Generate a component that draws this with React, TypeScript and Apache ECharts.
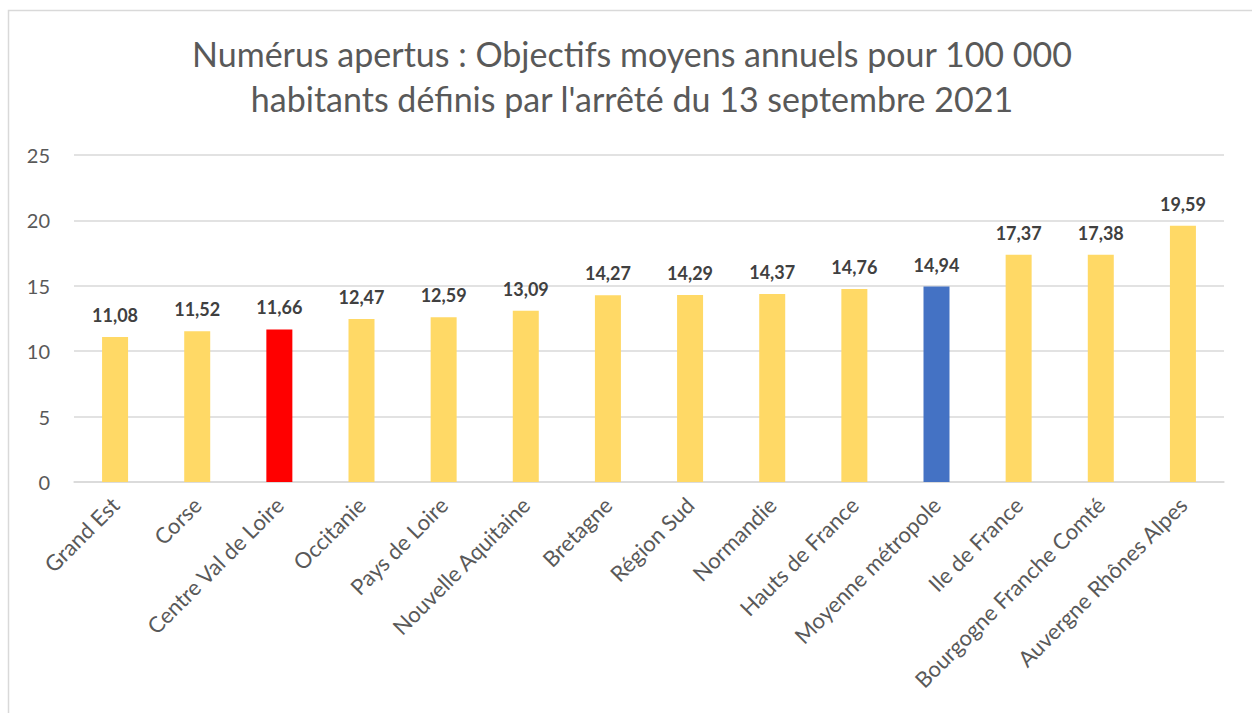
import React, { useEffect, useRef } from "react";
import * as echarts from "echarts";

const categories = [
  "Grand Est",
  "Corse",
  "Centre Val de Loire",
  "Occitanie",
  "Pays de Loire",
  "Nouvelle Aquitaine",
  "Bretagne",
  "Région Sud",
  "Normandie",
  "Hauts de France",
  "Moyenne métropole",
  "Ile de France",
  "Bourgogne Franche Comté",
  "Auvergne Rhônes Alpes",
];
const values = [11.08, 11.52, 11.66, 12.47, 12.59, 13.09, 14.27, 14.29, 14.37, 14.76, 14.94, 17.37, 17.38, 19.59];
const barColors = [
  "#FFD966", "#FFD966", "#FF0000", "#FFD966", "#FFD966", "#FFD966", "#FFD966",
  "#FFD966", "#FFD966", "#FFD966", "#4472C4", "#FFD966", "#FFD966", "#FFD966",
];
const titleText = "Numérus apertus : Objectifs moyens annuels pour 100 000\nhabitants définis par l'arrêté du 13 septembre 2021";

export default function App() {
  const ref = useRef<HTMLDivElement>(null);
  useEffect(() => {
    if (!ref.current) return;
    const chart = echarts.init(ref.current, null, { renderer: "svg" });
    const font = "Lato, 'Open Sans', sans-serif";
    chart.setOption({
      animation: false,
      backgroundColor: "#ffffff",
      textStyle: { fontFamily: font },
      title: {
        text: titleText,
        left: 627,
        textAlign: "center",
        top: 26,
        textStyle: {
          fontFamily: font,
          fontSize: 34,
          fontWeight: "normal",
          color: "#595959",
          lineHeight: 45,
        },
      },
      graphic: [
        {
          type: "rect",
          shape: { x: 8.5, y: 10.5, width: 1400, height: 900 },
          style: { fill: "none", stroke: "#D9D9D9", lineWidth: 1.5 },
          silent: true,
        },
      ],
      grid: { left: 74, right: 28, top: 155, bottom: 231, containLabel: false },
      xAxis: {
        type: "category",
        data: categories,
        axisLine: { show: true, lineStyle: { color: "#D9D9D9", width: 1.5 } },
        axisTick: { show: false },
        axisLabel: {
          rotate: 45,
          interval: 0,
          fontSize: 22,
          color: "#595959",
          fontFamily: font,
          margin: 19,
        },
      },
      yAxis: {
        type: "value",
        min: 0,
        max: 25,
        interval: 5,
        axisLine: { show: false },
        axisTick: { show: false },
        splitLine: { lineStyle: { color: "#D9D9D9", width: 1.5 } },
        axisLabel: { fontSize: 20, color: "#595959", fontFamily: font, margin: 24 },
      },
      series: [
        {
          type: "bar",
          data: values.map((v, i) => ({ value: v, itemStyle: { color: barColors[i] } })),
          barWidth: 26,
          label: {
            show: true,
            position: "top",
            distance: 13,
            fontSize: 18,
            fontWeight: "bold",
            color: "#404040",
            fontFamily: font,
            formatter: (p: any) => p.value.toFixed(2).replace(".", ","),
          },
        },
      ],
    });
    return () => chart.dispose();
  }, []);
  return (
    <div
      ref={ref}
      style={{ position: "fixed", left: 0, top: 0, width: 1252, height: 713 }}
    />
  );
}
